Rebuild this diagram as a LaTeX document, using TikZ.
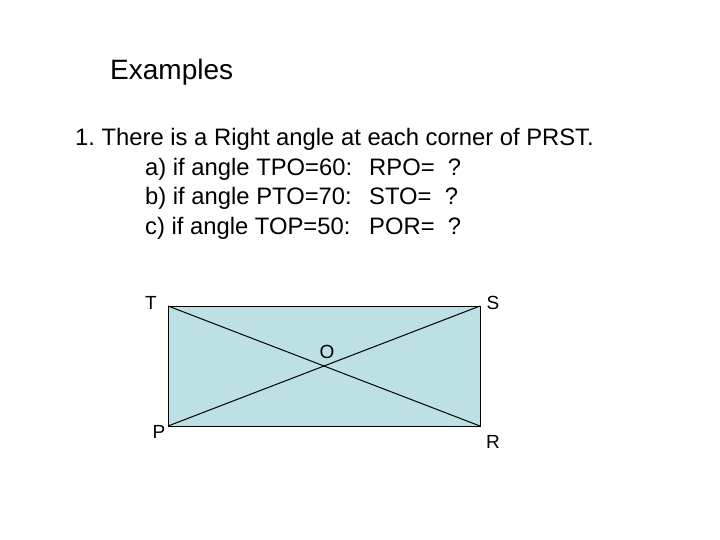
\documentclass[tikz,border=0pt]{standalone}
\usepackage{fontspec}
\setmainfont{Liberation Sans}
\usetikzlibrary{positioning}
\definecolor{boxfill}{RGB}{189,224,229}
\frenchspacing

\begin{document}
\begin{tikzpicture}[x=1pt,y=-1pt]
        \tikzstyle{every node}+=[inner sep=0pt]
        \tikzstyle{heading}=[anchor=base west,font=\fontsize{28}{30}\selectfont]
        \tikzstyle{textline}=[anchor=base west,font=\fontsize{23.8}{26}\selectfont]
        \tikzstyle{corner}=[font=\fontsize{19}{20}\selectfont]
        \useasboundingbox (0,0) rectangle (720,540);
        % heading and questions
        \node [heading] (title) at (110,80) {Examples};
        \node [textline] (line1) at (75,146) {1. There is a Right angle at each corner of PRST.};
        \node [textline] (qa) at (145,176) {a) if angle TPO=60:};
        \node [textline] (qb) at (145,205) {b) if angle PTO=70:};
        \node [textline] (qc) at (145,234) {c) if angle TOP=50:};
        \node [textline] (aa) at (369,176) {RPO=~~?};
        \node [textline] (ab) at (369,205) {STO=~~?};
        \node [textline] (ac) at (369,234) {POR=~~?};
        % rectangle PRST
        \coordinate (P) at (168,426);
        \coordinate (R) at (480,426);
        \coordinate (S) at (480,306);
        \coordinate (T) at (168,306);
        \draw [black,line width=1pt,fill=boxfill] (P) -- (R) -- (S) -- (T) -- cycle;
        \draw [black,line width=1pt] (T) -- (R);
        \draw [black,line width=1pt] (P) -- (S);
        \node [corner] (labT) at (151,303) {T};
        \node [corner] (labS) at (493,303) {S};
        \node [corner] (labO) at (327,352) {O};
        \node [corner] (labP) at (159,432) {P};
        \node [corner] (labR) at (493,442) {R};
\end{tikzpicture}
\end{document}
